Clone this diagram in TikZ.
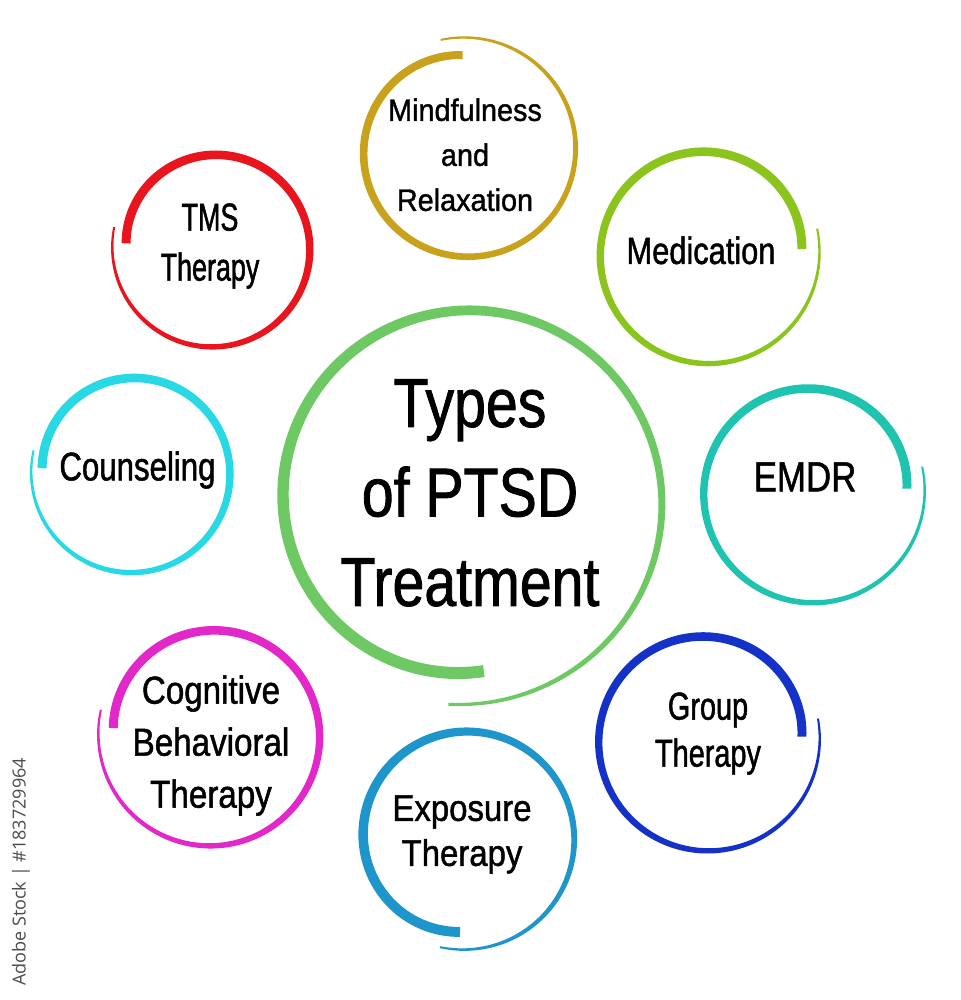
\documentclass[tikz,border=0pt]{standalone}
\usepackage{fontspec}
\setmainfont{Liberation Sans}
\newfontfamily\wmfont{Open Sans}
\definecolor{cGold}{RGB}{200,162,28}
\definecolor{cRed}{RGB}{232,20,30}
\definecolor{cLime}{RGB}{140,196,30}
\definecolor{cCyan}{RGB}{40,216,228}
\definecolor{cTeal}{RGB}{30,196,176}
\definecolor{cMag}{RGB}{226,40,200}
\definecolor{cBlue}{RGB}{20,50,200}
\definecolor{cSky}{RGB}{30,150,204}
\definecolor{cGreen}{RGB}{110,200,100}
% brush-stroke circle: colour, cx, cy, start angle, end angle | r start, r mid, r end, w start, w end
\newcommand\brush[5]{\def\BRc{#1}\def\BRx{#2}\def\BRy{#3}\def\BRta{#4}\def\BRtb{#5}}
\newcommand\brushB[5]{\def\BRra{#1}\def\BRrb{#2}\def\BRrc{#3}\def\BRwa{#4}\def\BRwb{#5}\brushDraw}
\newcommand\BRT{(\BRta+(\BRtb-\BRta)*\s)}
\newcommand\BRR{(\BRrb+(\BRra-\BRrb)*(1-\s)*(1-\s)*(1-\s)+(\BRrc-\BRrb)*\s*\s*\s)}
\newcommand\BRW{(\BRwb+(\BRwa-\BRwb)*(1-\s*\s))}
\newcommand\brushDraw{%
  \fill[\BRc] plot[domain=0:1,samples=181,variable=\s]
    ({\BRx+(\BRR+0.5*\BRW)*cos(\BRT)},{\BRy+(\BRR+0.5*\BRW)*sin(\BRT)})
    -- plot[domain=1:0,samples=181,variable=\s]
    ({\BRx+(\BRR-0.5*\BRW)*cos(\BRT)},{\BRy+(\BRR-0.5*\BRW)*sin(\BRT)}) -- cycle;}
\newcommand\lblfont[3]{\fontspec[FakeStretch=#1,FakeBold=1.2]{Liberation Sans}\fontsize{#2}{#3}\selectfont}
\begin{document}
\begin{tikzpicture}[x=0.5pt,y=-0.5pt,
  lbl/.style={anchor=north, align=center, inner sep=0pt, text=black}]
\fill[white] (0,0) rectangle (961,1000);
\useasboundingbox (0,0) rectangle (961,1000);
% circles
\brush{cGreen}{466}{500}{84}{455}\brushB{172}{190}{205}{12}{3}
\brush{cGold}{466}{150}{268}{-103}\brushB{95}{108}{113}{8}{2}
\brush{cRed}{213}{248}{183}{552}\brushB{87}{98}{101}{9}{2}
\brush{cLime}{707}{254}{-3}{-373}\brushB{95}{108}{113}{9}{2}
\brush{cCyan}{132}{473}{183}{553}\brushB{90}{99}{101}{9}{2}
\brush{cTeal}{812}{492}{-2}{-373}\brushB{95}{110}{113}{9}{2}
\brush{cMag}{211}{735}{184}{553}\brushB{98}{110}{113}{9}{2}
\brush{cBlue}{707}{740}{-2}{-371}\brushB{95}{110}{113}{9}{2}
\brush{cSky}{465}{838}{93}{463}\brushB{94}{108}{112}{10}{2}
% labels
\node[lbl, font=\lblfont{0.83}{34.5}{44.75}] (center) at (470,379) {Types\\of PTSD\\Treatment};
\node[lbl, font=\lblfont{0.93}{15.5}{22.5}] (mind) at (465,98) {Mindfulness\\and\\Relaxation};
\node[lbl, font=\lblfont{0.69}{19.5}{25}] (tms) at (210,203) {TMS\\Therapy};
\node[lbl, font=\lblfont{0.81}{19}{23}] (med) at (701,236) {Medication};
\node[lbl, font=\lblfont{0.78}{20}{24}] (couns) at (137.5,451) {Counseling};
\node[lbl, font=\lblfont{0.83}{21}{25}] (emdr) at (805,462) {EMDR};
\node[lbl, font=\lblfont{0.85}{19.5}{26}] (cbt) at (211,675) {Cognitive\\Behavioral\\Therapy};
\node[lbl, font=\lblfont{0.74}{19.5}{23.5}] (group) at (708,692) {Group\\Therapy};
\node[lbl, font=\lblfont{0.89}{18.5}{22.5}] (expo) at (462,795) {Exposure\\Therapy};
% vertical stock label
\node[rotate=90, inner sep=0pt, text=black!70, font=\wmfont\fontsize{9}{11}\selectfont] (wm) at (21,872) {Adobe Stock | \#183729964};
\end{tikzpicture}
\end{document}
